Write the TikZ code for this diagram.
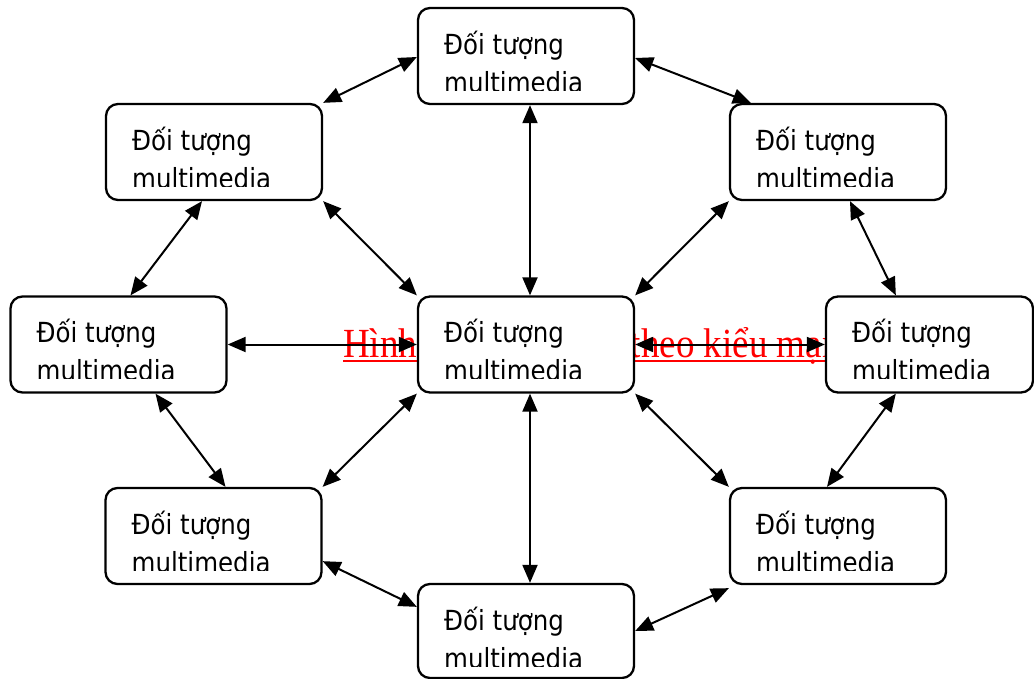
\documentclass[tikz,border=0pt]{standalone}
\usepackage{fontspec}
\usepackage{graphicx}
\newfontfamily\boxfont{DejaVu Sans}
\newfontfamily\capfont{Liberation Serif}
\usetikzlibrary{arrows.meta}
\tikzset{
  boxtext/.style={anchor=base west, inner sep=0pt, minimum width=0pt, minimum height=0pt,
    draw=none, fill=none, font=\boxfont\fontsize{24.5}{28}\selectfont},
  obj/.style={draw, line width=2.3pt, rounded corners=12pt, fill=white,
    minimum width=216pt, minimum height=96pt, inner sep=0pt,
    path picture={
      \clip (path picture bounding box.north west) rectangle ([yshift=-82pt]path picture bounding box.north east);
      \node[boxtext] at ([xshift=25pt,yshift=-46pt]path picture bounding box.north west) {\scalebox{1}[1.13]{Đối tượng}};
      \node[boxtext] at ([xshift=25pt,yshift=-84pt]path picture bounding box.north west) {\scalebox{1}[1.13]{multimedia}};
    }},
  conn/.style={{Triangle[length=18pt,width=15pt]}-{Triangle[length=18pt,width=15pt]}, line width=2pt, black},
}
\begin{document}
\begin{tikzpicture}[x=1pt,y=-1pt]
\useasboundingbox (0,0) rectangle (1034,678);
% caption (partly hidden behind boxes)
\node[anchor=base west, inner sep=0pt, text=red, font=\capfont\fontsize{37}{40}\selectfont] (cap) at (343,357) {\scalebox{1}[1.12]{Hình 1.5: Mô hình theo kiểu mạng}};
\draw[red, line width=2.3pt] ([yshift=-3.8pt]cap.base west) -- ([yshift=-3.8pt]cap.base east);
% boxes
\node[obj] (top) at (526,56) {};
\node[obj] (tl) at (214,152) {};
\node[obj] (tr) at (838,152) {};
\node[obj] (left) at (118.5,344.5) {};
\node[obj] (c) at (526,344.5) {};
\node[obj, minimum width=207pt] (right) at (929.5,344.5) {};
\node[obj] (bl) at (213.5,536) {};
\node[obj] (br) at (838,536) {};
\node[obj, minimum height=94pt] (bot) at (526,631) {};
% connectors
\draw[conn] (tl.north east) -- ([yshift=-1pt]top.west);
\draw[conn] ([yshift=-2pt]top.east) -- ([xshift=22pt]tr.north west);
\draw[conn] ([xshift=-12pt]tl.south) -- ([xshift=12pt]left.north);
\draw[conn] (tl.south east) -- (c.north west);
\draw[conn] ([xshift=4pt]top.south) -- ([xshift=4pt]c.north);
\draw[conn] (tr.south west) -- (c.north east);
\draw[conn] ([xshift=12pt]tr.south) -- ([xshift=71pt]right.north west);
\draw[conn] (left.east) -- (c.west);
\draw[conn] (c.east) -- (right.west);
\draw[conn] ([xshift=37pt]left.south) -- ([xshift=12pt]bl.north);
\draw[conn] (c.south west) -- (bl.north east);
\draw[conn] ([xshift=4pt]c.south) -- ([xshift=4pt]bot.north);
\draw[conn] (c.south east) -- (br.north west);
\draw[conn] ([xshift=71pt]right.south west) -- ([xshift=-11pt]br.north);
\draw[conn] ([yshift=24pt]bl.south east) -- ([yshift=-24pt]bot.north west);
\draw[conn] (bot.east) -- ([yshift=-3pt]br.south west);
\end{tikzpicture}
\end{document}
